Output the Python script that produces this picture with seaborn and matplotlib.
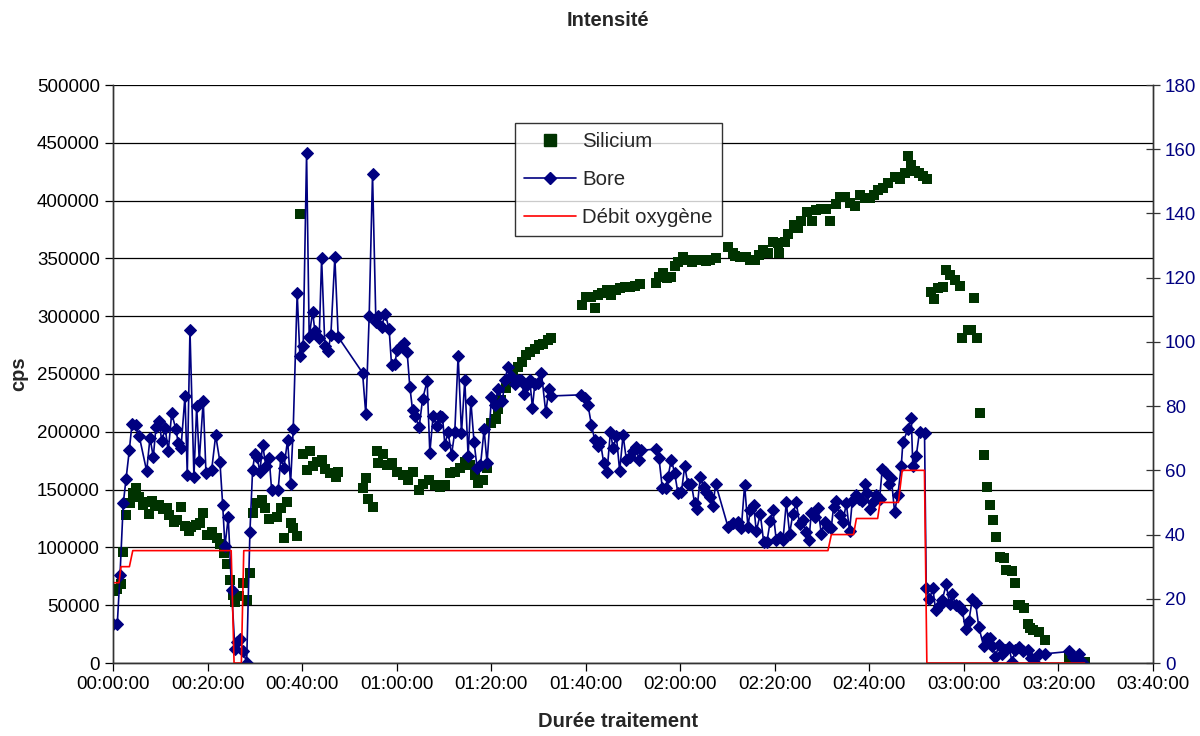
import numpy as np
import pandas as pd
import matplotlib
matplotlib.use("Agg")
import matplotlib.pyplot as plt
from matplotlib.ticker import FuncFormatter, MultipleLocator
from matplotlib.lines import Line2D
import seaborn as sns

# ---------------- data (time in minutes) ----------------
bore_t = [0.06, 0.91, 1.48, 2.17, 2.75, 3.45, 4.02, 4.86, 5.56, 7.12, 7.83, 8.52, 9.09, 9.79,
          10.30, 11.05, 11.69, 12.41, 13.32, 13.81, 14.38, 15.23, 15.71, 16.28, 17.12, 17.70,
          18.25, 19.09, 19.67, 20.87, 21.72, 22.62, 23.20, 23.68, 24.38, 25.09, 25.79, 26.16,
          26.85, 27.54, 28.27, 28.96, 29.53, 30.02, 30.50, 31.07, 31.65, 32.35, 33.04, 33.55,
          34.94, 35.51, 36.16, 36.93, 37.56, 38.12, 38.96, 39.53, 40.23, 40.95, 41.50, 42.22,
          42.71, 43.62, 44.13, 44.82, 45.51, 46.09, 46.93, 47.64, 52.79, 53.48, 54.19, 54.90,
          55.61, 56.09, 56.81, 57.57, 58.41, 58.92, 59.62, 60.11, 60.82, 61.53, 62.22, 62.79,
          63.36, 63.85, 64.76, 65.48, 66.45, 67.02, 67.72, 68.44, 69.13, 69.70, 70.19, 70.88,
          71.61, 72.30, 73.01, 73.72, 74.42, 75.12, 75.69, 76.38, 77.02, 77.74, 78.50, 79.13,
          80.06, 80.76, 81.46, 82.39, 82.88, 83.57, 84.29, 84.99, 85.69, 86.41, 86.90, 87.47,
          88.16, 88.73, 89.22, 89.92, 90.63, 91.54, 92.24, 92.74, 99.09, 99.79, 100.49, 101.20,
          101.91, 102.60, 103.11, 103.81, 104.50, 105.22, 105.78, 106.49, 107.18, 107.89, 108.60,
          109.31, 110.00, 110.57, 111.27, 111.78, 114.80, 115.50, 116.21, 116.92, 117.40, 118.11,
          118.82, 119.51, 120.24, 120.93, 121.63, 122.35, 123.04, 123.53, 124.25, 124.95, 125.52,
          126.22, 126.91, 127.48, 130.08, 131.14, 132.21, 132.91, 133.61, 134.31, 134.82, 135.52,
          136.08, 136.93, 137.63, 138.33, 139.05, 139.59, 140.32, 141.01, 141.72, 142.43, 143.13,
          143.83, 144.54, 145.24, 145.94, 146.51, 147.21, 147.72, 148.41, 149.12, 149.83, 150.52,
          151.23, 151.94, 152.43, 153.00, 153.70, 154.40, 155.12, 155.81, 156.38, 157.09, 157.78,
          158.50, 158.98, 159.47, 160.20, 160.75, 161.46, 162.16, 162.73, 163.22, 164.13, 164.64,
          165.33, 166.02, 166.74, 167.09, 168.14, 168.86, 169.20, 169.91, 170.61, 171.67, 172.03,
          172.72, 173.42, 174.00, 174.70, 175.41, 176.26, 176.96, 177.53, 178.23, 178.92, 179.64,
          180.34, 181.04, 181.76, 182.46, 183.16, 184.15, 184.84, 185.42, 185.99, 186.68, 187.39,
          188.10, 188.79, 189.49, 190.21, 190.91, 191.75, 192.60, 193.51, 194.23, 195.13, 195.98,
          197.25, 202.32, 203.03, 203.74, 204.29, 205.13]
bore_v = [34000, 34000, 76000, 138000, 159000, 184000, 207000, 206000, 196000, 166000, 195000,
          178000, 204000, 209000, 192000, 203000, 183000, 216000, 202000, 190000, 186000, 231000,
          163000, 288000, 161000, 222000, 175000, 227000, 164000, 167000, 197000, 174000, 137000,
          101000, 126000, 63000, 12000, 18000, 21000, 10000, 0, 113000, 167000, 181000, 178000,
          165000, 189000, 170000, 177000, 150000, 150000, 178000, 169000, 193000, 155000, 202000,
          320000, 266000, 274000, 441000, 282000, 304000, 287000, 281000, 350000, 274000, 270000,
          284000, 351000, 282000, 251000, 215000, 300000, 423000, 295000, 300000, 291000, 302000,
          289000, 258000, 259000, 271000, 274000, 277000, 269000, 239000, 219000, 214000, 204000,
          228000, 244000, 182000, 214000, 205000, 214000, 213000, 189000, 200000, 180000, 200000,
          266000, 199000, 245000, 179000, 227000, 191000, 169000, 171000, 202000, 173000, 230000,
          223000, 237000, 227000, 245000, 256000, 248000, 241000, 245000, 245000, 233000, 240000,
          245000, 221000, 241000, 242000, 251000, 217000, 237000, 231000, 232000, 229000, 223000,
          206000, 193000, 188000, 191000, 173000, 165000, 200000, 186000, 196000, 166000, 197000,
          176000, 178000, 183000, 187000, 176000, 184000, 185000, 177000, 151000, 151000, 161000,
          176000, 164000, 147000, 148000, 170000, 155000, 155000, 138000, 133000, 161000, 152000,
          148000, 144000, 136000, 155000, 118000, 121000, 122000, 116500, 154000, 118000, 132000,
          137000, 114000, 129000, 105000, 105000, 123000, 132000, 106000, 109000, 106000, 139000,
          112000, 129000, 139000, 120000, 124000, 113000, 106000, 130000, 126000, 134000, 112000,
          122000, 118000, 117000, 135000, 140000, 128000, 122000, 138000, 114000, 140000, 145000,
          142000, 140000, 155000, 147000, 133000, 139500, 145000, 142000, 168000, 165000, 155000,
          160000, 131000, 145000, 170000, 191000, 202000, 212000, 170000, 179000, 200000, 199000,
          65000, 55000, 65000, 46000, 49000, 54500, 68000, 51000, 60000, 50000, 49000, 46000,
          29000, 36000, 55000, 52000, 31000, 15000, 22000, 22000, 15000, 5500, 15500, 8000, 11000,
          14000, 1000, 11000, 14000, 10000, 11000, 4000, 0, 8000, 8000, 10000, 5500, 0, 8000, 0]

si_t = [0.0, 0.79, 1.63, 2.05, 2.75, 3.59, 4.16, 4.86, 5.56, 6.28, 6.98, 7.67, 8.18, 8.88, 9.79,
        10.51, 11.35, 11.90, 12.90, 13.59, 14.32, 15.23, 16.13, 16.43, 17.55, 18.39, 18.96, 19.81,
        20.87, 21.92, 22.62, 23.46, 24.03, 24.74, 25.43, 25.79, 26.71, 27.54, 28.27, 28.96, 29.67,
        30.50, 31.44, 32.14, 33.04, 34.61, 35.45, 36.16, 36.72, 37.56, 38.12, 38.84, 39.53, 40.23,
        40.95, 41.65, 42.35, 43.07, 44.13, 44.82, 45.88, 47.15, 47.64, 52.92, 53.48, 53.97, 54.90,
        55.75, 56.09, 57.15, 57.86, 58.92, 59.98, 61.37, 62.43, 63.49, 64.76, 65.60, 66.87, 68.08,
        69.13, 70.19, 71.25, 72.30, 73.36, 74.42, 75.48, 76.54, 77.23, 78.29, 79.01, 80.06, 80.98,
        81.46, 82.18, 83.09, 83.94, 84.63, 85.69, 86.62, 87.47, 88.16, 89.22, 90.13, 90.98, 92.03,
        92.74, 99.31, 100.00, 101.20, 101.91, 102.60, 103.53, 104.50, 105.43, 106.35, 107.18,
        108.24, 109.31, 110.36, 111.56, 114.80, 115.50, 116.34, 117.18, 118.11, 118.82, 119.51,
        120.57, 121.42, 122.55, 123.40, 124.46, 125.37, 126.36, 127.48, 130.08, 131.14, 131.50,
        132.56, 133.83, 134.82, 135.73, 136.64, 137.48, 138.54, 139.59, 140.66, 140.87, 142.07,
        142.77, 143.97, 144.88, 145.61, 146.79, 147.92, 148.63, 149.83, 150.89, 151.74, 152.86,
        153.70, 154.76, 155.81, 156.87, 157.92, 158.98, 160.05, 160.89, 161.80, 162.86, 163.91,
        165.33, 166.38, 167.45, 168.14, 168.86, 169.56, 170.46, 171.31, 172.16, 173.09, 173.58,
        174.49, 175.55, 176.26, 176.96, 178.02, 179.08, 179.64, 180.82, 181.53, 182.22, 182.71,
        183.42, 184.15, 184.89, 185.52, 186.11, 186.83, 187.53, 188.38, 188.95, 190.21, 190.91,
        191.39, 191.97, 192.81, 193.51, 194.08, 194.71, 195.98, 197.25, 202.32, 203.60, 204.80,
        205.71]
si_v = [62000, 64000, 68000, 96000, 128000, 138000, 147000, 151000, 144000, 137000, 139000, 129000,
        140000, 136000, 137000, 133000, 134000, 128000, 122000, 124000, 135000, 118500, 114000,
        118000, 119000, 121000, 130000, 111000, 113500, 108000, 103000, 95000, 86000, 72000, 59000,
        53000, 58000, 69000, 54500, 78000, 129500, 138000, 141000, 134000, 125000, 126500, 134000,
        108000, 139500, 121000, 116500, 110000, 388000, 181000, 167000, 183000, 170000, 174000,
        175500, 168000, 164000, 161000, 165000, 151000, 160000, 141500, 135000, 183000, 173000,
        181000, 171000, 173000, 165000, 162500, 158000, 165000, 150000, 155000, 158000, 154000,
        152500, 154000, 164000, 165500, 168500, 174000, 171000, 162500, 155500, 158000, 168500,
        208000, 211000, 220000, 227500, 237500, 243000, 249000, 256000, 260500, 266500, 269000,
        272000, 275000, 276000, 279000, 281000, 310000, 317000, 317000, 307000, 318000, 320000,
        322500, 318000, 323000, 324000, 325000, 325500, 326000, 328000, 329000, 334000, 337500,
        333000, 334000, 343000, 347000, 351000, 349000, 347000, 349000, 348500, 348000, 348500,
        350000, 360000, 355000, 352000, 351500, 351000, 349000, 348500, 353000, 357000, 355000,
        364500, 363000, 355000, 364500, 371500, 379000, 376000, 382500, 390500, 382000, 392000,
        393000, 393000, 382000, 397000, 403000, 403000, 397500, 395000, 405000, 402000, 402000,
        405000, 409000, 410500, 415000, 420000, 419000, 423500, 439000, 430500, 426000, 423500,
        421000, 419000, 321000, 314500, 324000, 325500, 340000, 335500, 331000, 326000, 281000,
        288000, 288000, 316000, 281000, 216000, 180000, 152000, 137000, 124000, 109000, 92000,
        90500, 80500, 80000, 69000, 50000, 50000, 48000, 34000, 30000, 28500, 27000, 20000, 4000,
        2500, 1000, 500]

o2_t = [0.0, 1.27, 1.69, 2.45, 3.47, 4.18, 25.00, 25.61, 27.15, 27.66, 151.24, 151.96, 156.65,
        157.26, 161.75, 162.26, 166.14, 166.95, 171.65, 172.16, 205.53]
o2_v = [25, 25, 30, 30, 30, 35, 35, 0, 0, 35, 35, 40, 40, 45, 45, 50, 50, 60, 60, 0, 0]

x_ticks = [0, 20, 40, 60, 80, 100, 120, 140, 160, 180, 200, 220]
title = "Intensité"
x_label = "Durée traitement"
y_label = "cps"
names = ["Silicium", "Bore", "Débit oxygène"]

# ---------------- style ----------------
sns.set_theme(style="white")
plt.rcParams["font.family"] = ["Liberation Sans", "DejaVu Sans"]

SI_COL = "#003300"
BORE_COL = "#000080"
O2_COL = "#FF0000"

fig = plt.figure(figsize=(12, 7.36), dpi=100)
ax = fig.add_axes([113 / 1200, 1 - 663 / 736, 1040 / 1200, 578 / 736])
ax2 = ax.twinx()

df_si = pd.DataFrame({"t": si_t, "v": si_v})
df_b = pd.DataFrame({"t": bore_t, "v": bore_v})
df_o = pd.DataFrame({"t": o2_t, "v": o2_v})

sns.scatterplot(data=df_si, x="t", y="v", ax=ax, marker="s", s=55, color=SI_COL,
                edgecolor=SI_COL, linewidth=0, zorder=3, legend=False)
sns.lineplot(data=df_b, x="t", y="v", ax=ax, color=BORE_COL, lw=1.2, marker="D",
             markersize=6, markeredgecolor=BORE_COL, markerfacecolor=BORE_COL,
             estimator=None, sort=False, zorder=4, legend=False)
sns.lineplot(data=df_o, x="t", y="v", ax=ax2, color=O2_COL, lw=1.2,
             estimator=None, sort=False, legend=False)

ax.set_xlim(0, 220)
ax.set_ylim(0, 500000)
ax2.set_ylim(0, 180)
ax.set_xticks(x_ticks)
ax.xaxis.set_major_formatter(FuncFormatter(lambda m, p: f"{int(m // 60):02d}:{int(m % 60):02d}:00"))
ax.yaxis.set_major_locator(MultipleLocator(50000))
ax.yaxis.set_major_formatter(FuncFormatter(lambda v, p: f"{int(v)}"))
ax2.yaxis.set_major_locator(MultipleLocator(20))

ax.grid(axis="y", color="black", lw=0.9)
ax.grid(axis="x", visible=False)
ax2.grid(False)
ax.set_axisbelow(True)

for a in (ax, ax2):
    for s in a.spines.values():
        s.set_color("#333333")
        s.set_linewidth(1.0)
    a.spines["top"].set_visible(False)

ax.tick_params(axis="both", which="major", labelsize=13.5, colors="black",
               direction="out", length=6, width=0.9, left=True, bottom=True)
ax2.tick_params(axis="y", labelsize=13.5, direction="inout", length=10, width=0.9,
                right=True, labelcolor=BORE_COL, color="#333333")

ax.set_xlabel(x_label, fontsize=14.5, fontweight="bold", labelpad=14)
ax.xaxis.set_label_coords(0.486, -0.085)
ax.set_ylabel(y_label, fontsize=14.5, fontweight="bold", labelpad=6)
ax2.set_ylabel("")
fig.text(0.507, 1 - 20 / 736, title, ha="center", va="center", fontsize=14.5, fontweight="bold")

handles = [
    Line2D([], [], ls="none", marker="s", markersize=8, color=SI_COL),
    Line2D([], [], color=BORE_COL, lw=1.2, marker="D", markersize=6),
    Line2D([], [], color=O2_COL, lw=1.2),
]
leg = ax2.legend(handles, names, loc="upper left", bbox_to_anchor=(402 / 1040, 0.934),
                 frameon=True, fancybox=False, edgecolor="black", fontsize=14.7,
                 borderpad=0.45, labelspacing=0.93, handlelength=2.55, handletextpad=0.3,
                 borderaxespad=0)
leg.get_frame().set_linewidth(1.0)
leg.set_zorder(10)

fig.savefig("out.png", dpi=100)
